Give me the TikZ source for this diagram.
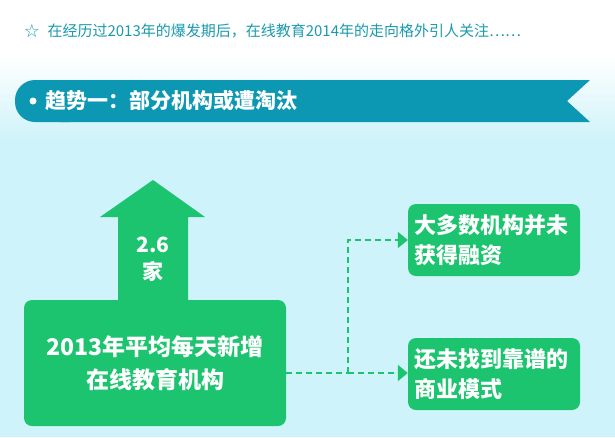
\documentclass[tikz,border=0pt]{standalone}
\usepackage{fontspec}
\setmainfont{Noto Sans CJK SC}
\newcommand\cjkb{\bfseries}
\newfontfamily\djv{DejaVu Sans}
\usetikzlibrary{arrows.meta}
\definecolor{grn}{HTML}{1DC46F}
\definecolor{teal}{HTML}{0C97B2}
\definecolor{bgc}{HTML}{CFF3FA}
\definecolor{ttxt}{HTML}{1A9AAE}
\tikzset{gbox/.style={fill=grn,rounded corners=8pt,text=white,align=left,font=\cjkb\fontsize{22}{30}\selectfont},
 dline/.style={grn,dashed,line width=2pt,dash pattern=on 6pt off 4pt},
 tip/.style={-{Triangle[length=10pt,width=16pt,fill=grn]}}}
\begin{document}
\begin{tikzpicture}[x=1pt,y=-1pt]
\useasboundingbox (0,0) rectangle (615,437);
\fill[white] (0,0) rectangle (615,437);
\shade[top color=white,bottom color=bgc] (0,55) rectangle (615,140);
\fill[bgc] (0,140) rectangle (615,437);
\node[text=ttxt,font=\djv\fontsize{18}{18}\selectfont] (star) at (32,31) {☆};
\node[anchor=west,text=ttxt,font=\fontsize{15}{15}\selectfont] (intro) at (44,31) {在经历过2013年的爆发期后，在线教育2014年的走向格外引人关注……};
\fill[teal,rounded corners=20pt] (15,80) rectangle (90,122);
\fill[teal] (60,80) -- (590,80) -- (567,101) -- (590,122) -- (60,122) -- cycle;
\fill[white] (33,101) circle (3.5);
\node[anchor=west,text=white,font=\cjkb\fontsize{21}{21}\selectfont] (title) at (42,101) {趋势一：部分机构或遭淘汰};
\fill[grn] (153,180) -- (205,217) -- (188,217) -- (188,305) -- (118,305) -- (118,217) -- (100,217) -- cycle;
\node[text=white,font=\cjkb\fontsize{21}{27}\selectfont,align=center] (num) at (153,259) {2.6\\家};
\node[gbox,minimum width=262pt,minimum height=126pt,align=center,font=\cjkb\fontsize{23}{33}\selectfont] (main) at (155,363) {2013年平均每天新增\\在线教育机构};
\node[gbox,minimum width=172pt,minimum height=72pt,text width=160pt] (b1) at (494,240) {大多数机构并未\\获得融资};
\node[gbox,minimum width=172pt,minimum height=72pt,text width=160pt] (b2) at (494,374) {还未找到靠谱的\\商业模式};
\coordinate (j) at (348,373);
\draw[dline] (main.east |- j) -- (j);
\draw[dline,tip] (j) -- (b2.west |- j);
\draw[dline,tip] (j) |- (b1.west);
\end{tikzpicture}
\end{document}
